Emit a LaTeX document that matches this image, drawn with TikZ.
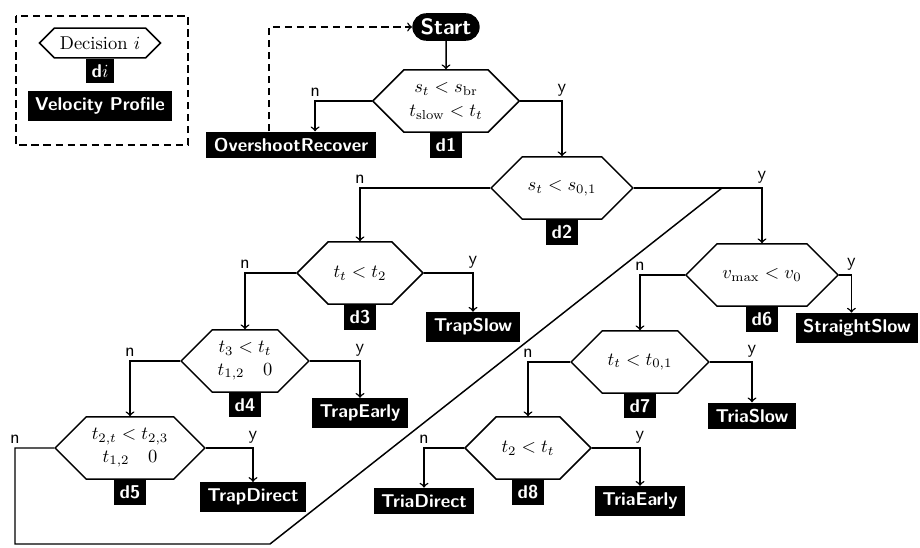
\documentclass[tikz,border=0pt]{standalone}
\usepackage{amsmath}
\usetikzlibrary{shapes.symbols,shapes.misc}

\tikzset{
  decision/.style={signal, signal to=west and east, draw, thick, fill=white,
    minimum height=33.5pt, inner xsep=3pt, align=center},
  profile/.style={fill=black, text=white, font=\sffamily\bfseries, inner xsep=4pt, inner ysep=3.5pt},
  tag/.style={fill=black, text=white, font=\sffamily\bfseries, inner xsep=3pt, inner ysep=3pt, anchor=north},
  answer/.style={font=\sffamily, anchor=south, inner sep=2pt},
  flow/.style={draw, thick, ->},
  legendline/.style={thick, dash pattern=on 4pt off 2.5pt}
}

\begin{document}
\begin{tikzpicture}[x=0.54pt, y=-0.54pt]
  \useasboundingbox (0,0) rectangle (920,548);

  % legend
  \draw[legendline] (16,16) rectangle (188,145);
  \node[decision, minimum height=16pt, inner ysep=1.5pt] (legdec) at (100,43) {Decision $i$};
  \node[tag] (legtag) at (legdec.south) {d$i$};
  \node[profile] (legprof) at (100,106) {Velocity Profile};

  % decisions
  \node[fill=black, text=white, rounded rectangle, font=\sffamily\bfseries\large, inner xsep=3pt, inner ysep=3pt] (start) at (446,27) {Start};
  \node[decision] (d1) at (446,101) {$s_t < s_{\mathrm{br}}$\\[1pt] $t_{\mathrm{slow}} < t_t$};
  \node[decision] (d2) at (562,188) {$s_t < s_{0,1}$};
  \node[decision] (d3) at (360,273) {$t_t < t_2$};
  \node[decision] (d4) at (245,361) {$t_3 < t_t$\\ $t_{1,2} \quad 0$};
  \node[decision] (d5) at (130,448) {$t_{2,t} < t_{2,3}$\\ $t_{1,2} \quad 0$};
  \node[decision] (d6) at (762,275) {$v_{\max} < v_0$};
  \node[decision] (d7) at (640,362) {$t_t < t_{0,1}$};
  \node[decision] (d8) at (528,448) {$t_2 < t_t$};

  \node[tag] (t1) at (d1.south) {d1};
  \node[tag] (t2) at (d2.south) {d2};
  \node[tag] (t3) at (d3.south) {d3};
  \node[tag] (t4) at (d4.south) {d4};
  \node[tag] (t5) at (d5.south) {d5};
  \node[tag] (t6) at (d6.south) {d6};
  \node[tag] (t7) at (d7.south) {d7};
  \node[tag] (t8) at (d8.south) {d8};

  % velocity profiles
  \node[profile] (ovr) at (291,145) {OvershootRecover};
  \node[profile] (trapslow) at (473,327) {TrapSlow};
  \node[profile] (trapearly) at (360,413) {TrapEarly};
  \node[profile] (trapdirect) at (253,497) {TrapDirect};
  \node[profile] (straightslow) at (857,328) {StraightSlow};
  \node[profile] (triaslow) at (752,416) {TriaSlow};
  \node[profile] (triadirect) at (424,501) {TriaDirect};
  \node[profile] (triaearly) at (640,501) {TriaEarly};

  \coordinate (join) at (722,188);

  % connectors
  \draw[flow] (start) -- (d1);
  \draw[flow] (d1.west) -| node[answer, pos=0.5] {n} ([xshift=13pt]ovr.north);
  \draw[flow] (d1.east) -| node[answer, pos=0.5] {y} (d2.north);
  \draw[flow] (d2.west) -| node[answer, pos=0.5] {n} (d3.north);
  \draw[flow] (d2.east) -| node[answer, pos=0.5] {y} (d6.north);
  \draw[flow] (d3.west) -| node[answer, pos=0.5] {n} (d4.north);
  \draw[flow] (d3.east) -| node[answer, pos=0.5] {y} (trapslow.north);
  \draw[flow] (d4.west) -| node[answer, pos=0.5] {n} (d5.north);
  \draw[flow] (d4.east) -| node[answer, pos=0.5] {y} (trapearly.north);
  \draw[flow] (d5.east) -| node[answer, pos=0.5] {y} (trapdirect.north);
  \draw[thick] (d5.west) -- (15,448) node[answer] {n} -- (15,544) -- (270,544) -- (join);
  \draw[flow] (d6.west) -| node[answer, pos=0.5] {n} (d7.north);
  \draw[flow] (d6.east) -| node[answer, pos=0.5] {y} ([xshift=-3pt]straightslow.north);
  \draw[flow] (d7.west) -| node[answer, pos=0.5] {n} (d8.north);
  \draw[flow] (d7.east) -| node[answer, pos=0.5] {y} (triaslow.north);
  \draw[flow] (d8.west) -| node[answer, pos=0.5] {n} (triadirect.north);
  \draw[flow] (d8.east) -| node[answer, pos=0.5] {y} (triaearly.north);
  \draw[legendline, ->] ([xshift=-12pt]ovr.north) |- (start.west);
\end{tikzpicture}
\end{document}
